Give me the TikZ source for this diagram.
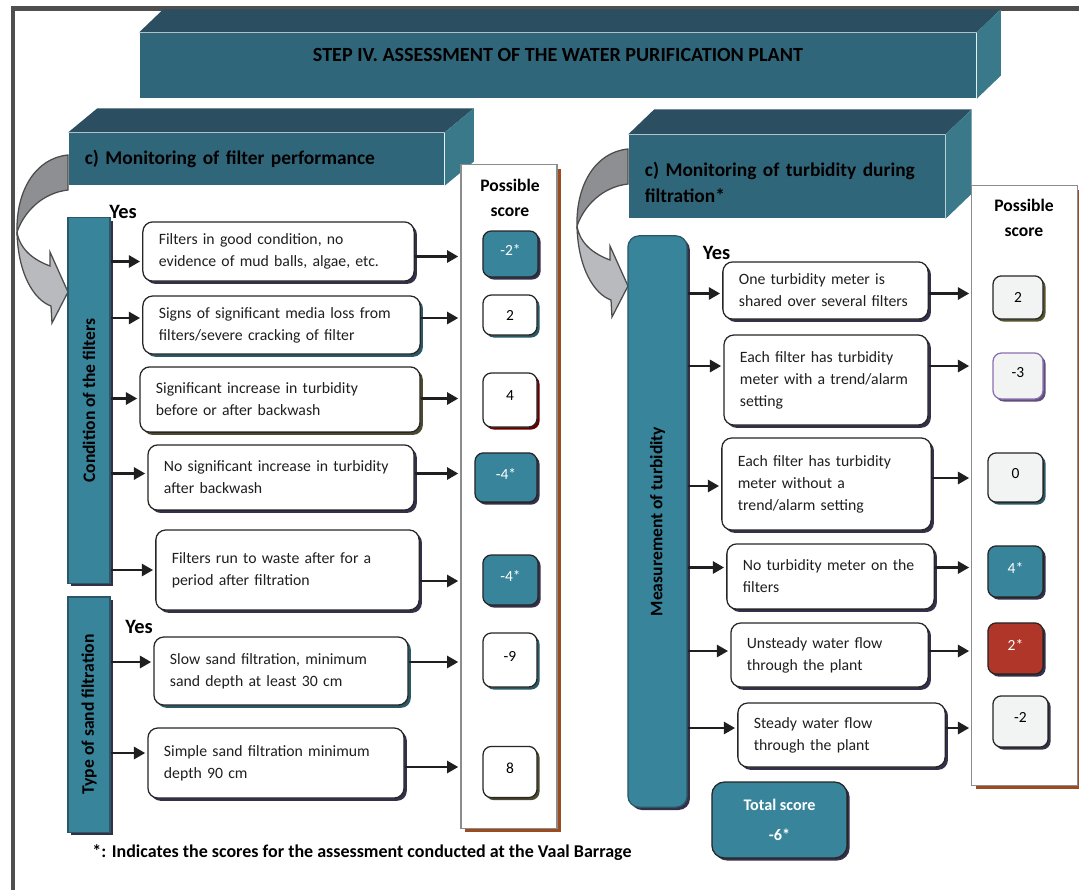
\documentclass[tikz,border=0pt]{standalone}
\usepackage{fontspec}
\setmainfont{Carlito}
\usetikzlibrary{arrows.meta, positioning, shadows, calc}
\definecolor{cfront}{HTML}{306679}
\definecolor{ctop}{HTML}{2B4E60}
\definecolor{cside}{HTML}{3A798A}
\definecolor{cteal}{HTML}{38849A}
\definecolor{cline}{HTML}{2A5866}
\definecolor{cred}{HTML}{B0362A}
\definecolor{cpale}{HTML}{F2F4F3}
\definecolor{cbrown}{HTML}{9C4A1F}
\definecolor{cframe}{HTML}{4F4F4F}
\definecolor{cshade}{HTML}{35304A}
\definecolor{cpurple}{HTML}{8A6FAE}
\definecolor{cbenddark}{HTML}{8E8F93}
\definecolor{cbendlight}{HTML}{B9BABE}
\tikzset{
  every picture/.style={line width=0.9pt},
  opt/.style={draw=black!85, fill=white, rounded corners=7pt, align=left, inner xsep=0.4cm, inner ysep=2pt, text=black!88, font=\fontsize{11.2}{15.6}\selectfont, drop shadow={shadow xshift=2pt, shadow yshift=-2pt, fill=#1, opacity=1}},
  opt/.default=cshade,
  sc/.style={draw=black!85, fill=white, rounded corners=6pt, inner sep=0pt, text depth=0.2cm, font=\fontsize{11}{13}\selectfont, drop shadow={shadow xshift=1.8pt, shadow yshift=-1.8pt, fill=#1, opacity=1}},
  sc/.default=cshade,
  scteal/.style={sc, fill=cteal, text=white},
  bar/.style={draw=cline, fill=cteal, inner sep=0pt, font=\bfseries\fontsize{12.5}{14}\selectfont, drop shadow={shadow xshift=2pt, shadow yshift=-2pt, fill=cshade, opacity=1}},
  banner/.style={fill=cfront, inner xsep=0.4cm, inner ysep=0pt, align=left, font=\bfseries\fontsize{13.8}{18.5}\selectfont},
  col/.style={draw=black!45, fill=white, line width=0.8pt, drop shadow={shadow xshift=3pt, shadow yshift=-3pt, fill=cbrown, opacity=1}},
  arrow/.style={-{Triangle[length=8pt, width=8.5pt]}, line width=2.1pt, draw=black!88, shorten >=1.5pt},
  yes/.style={font=\bfseries\fontsize{14.5}{16}\selectfont},
  poss/.style={align=center, font=\bfseries\fontsize{12.5}{17.7}\selectfont},
  bendarrow/.style={draw=black!70, line width=0.9pt},
}

\begin{document}
\begin{tikzpicture}[x=0.025cm, y=-0.025cm]
  \useasboundingbox (0,0) rectangle (1079,890);
  % frame
  \draw[cframe, line width=3.5pt] (13,890) -- (13,8.5) -- (1079,8.5);

  % banners
  \node[banner, align=center, minimum width=20.9cm, minimum height=1.63cm, text depth=15pt, font=\bfseries\fontsize{14.3}{17}\selectfont] (title) at (558,65.5) {STEP IV. ASSESSMENT OF THE WATER PURIFICATION PLANT};
  \node[banner, text width=8.58cm, minimum height=1.3cm] (lban) at (256.5,159) {c) Monitoring of filter performance};
  \node[banner, text width=7.1cm, minimum height=2.08cm, text depth=10pt] (rban) at (787,176.5) {c) Monitoring of turbidity during\\ filtration*};
  \foreach \b/\dx/\dy in {title/24/-23, lban/29/-24, rban/26/-25} {
    \fill[ctop] (\b.north west) -- ([shift={(\dx,\dy)}]\b.north west) -- ([shift={(\dx,\dy)}]\b.north east) -- (\b.north east) -- cycle;
    \fill[cside] (\b.north east) -- ([shift={(\dx,\dy)}]\b.north east) -- ([shift={(\dx,\dy)}]\b.south east) -- (\b.south east) -- cycle;
  }

  % bent arrows from the banners
  \foreach \sx/\sy in {0/0, 560/-6} {
    \begin{scope}[shift={(\sx,\sy)}]
      \filldraw[bendarrow, fill=cbenddark] (68,155) .. controls (36,158) and (16,190) .. (17,232) .. controls (24,212) and (42,193) .. (68,190) -- cycle;
      \filldraw[bendarrow, fill=cbendlight] (17,232) .. controls (18,274) and (34,300) .. (51,306) -- (52,323) -- (68,292) -- (50,252) -- (50,266) .. controls (34,260) and (20,250) .. (17,232) -- cycle;
    \end{scope}
  }

  % score columns
  \node[col, minimum width=2.4cm, minimum height=16.58cm] (lcol) at (509,496.5) {};
  \node[col, minimum width=2.63cm, minimum height=14.98cm] (rcol) at (1024.5,485.5) {};
  \node[poss] (lposs) at (510,197.5) {Possible\\ score};
  \node[poss] (rposs) at (1024,218) {Possible\\ score};

  % side bars
  \node[bar, minimum width=1.05cm, minimum height=9.13cm] (cond) at (89,400.5) {\rotatebox{90}{Condition of the filters}};
  \node[bar, minimum width=1.05cm, minimum height=5.88cm] (sand) at (89,714.5) {\rotatebox{90}{Type of sand filtration}};
  \node[bar, rounded corners=8pt, minimum width=1.48cm, minimum height=14.28cm] (meas) at (657.5,521.5) {\rotatebox{90}{Measurement of turbidity}};
  \node[yes] (yes1) at (123,212) {Yes};
  \node[yes] (yes2) at (139,627) {Yes};
  \node[yes] (yes3) at (716.5,253) {Yes};

  % filter options
  \node[opt, text width=5.98cm, minimum height=1.48cm] (f1) at (278.5,251.5) {Filters in good condition, no\\ evidence of mud balls, algae, etc.};
  \node[opt=cline, text width=6.13cm, minimum height=1.45cm] (f2) at (281.5,325) {Signs of significant media loss from\\ filters/severe cracking of filter};
  \node[opt=black!60!olive, text width=6.2cm, minimum height=1.63cm] (f3) at (280,399.5) {Significant increase in turbidity\\ before or after backwash};
  \node[opt, text width=5.85cm, minimum height=1.63cm] (f4) at (281,477.5) {No significant increase in turbidity\\ after backwash};
  \node[opt, text width=5.78cm, minimum height=2.0cm] (f5) at (287.5,570) {Filters run to waste after for a\\ period after filtration};
  \node[opt=cline, text width=5.55cm, minimum height=1.7cm] (f6) at (281,671) {Slow sand filtration, minimum\\ sand depth at least 30 cm};
  \node[opt, text width=5.6cm, minimum height=1.75cm] (f7) at (276,763) {Simple sand filtration minimum\\ depth 90 cm};

  % turbidity options
  \node[opt, text width=4.33cm, minimum height=1.43cm] (t1) at (825.5,290.5) {One turbidity meter is\\ shared over several filters};
  \node[opt, text width=4.3cm, minimum height=2.25cm] (t2) at (826,380) {Each filter has turbidity\\ meter with a trend/alarm\\ setting};
  \node[opt, text width=4.43cm, minimum height=2.3cm] (t3) at (826.5,484) {Each filter has turbidity\\ meter without a\\ trend/alarm setting};
  \node[opt, text width=4.38cm, minimum height=1.63cm] (t4) at (830.5,576.5) {No turbidity meter on the\\ filters};
  \node[opt, text width=4.13cm, minimum height=1.6cm] (t5) at (829.5,655) {Unsteady water flow\\ through the plant};
  \node[opt, text width=4.38cm, minimum height=1.6cm] (t6) at (841.5,735) {Steady water flow\\ through the plant};

  % scores
  \node[scteal, minimum width=1.38cm, minimum height=1.15cm] (s1) at (510.5,254) {-2*};
  \node[sc=cline, minimum width=1.35cm, minimum height=1.0cm, text depth=0pt] (s2) at (510,315) {2};
  \node[sc=black!60!red, minimum width=1.35cm, minimum height=1.35cm] (s3) at (510,400) {4};
  \node[scteal, minimum width=1.55cm, minimum height=1.23cm] (s4) at (506,477.5) {-4*};
  \node[scteal, minimum width=1.38cm, minimum height=1.25cm] (s5) at (510.5,580) {-4*};
  \node[sc=cline, minimum width=1.35cm, minimum height=1.35cm] (s6) at (510,660) {-9};
  \node[sc=black!60!olive, minimum width=1.35cm, minimum height=1.28cm] (s7) at (510,772) {8};
  \node[sc=black!50!olive, fill=cpale, minimum width=1.25cm, minimum height=1.08cm, text depth=0pt] (r1) at (1018,297.5) {2};
  \node[sc=cpurple!70!black, draw=cpurple, fill=cpale, minimum width=1.25cm, minimum height=1.15cm] (r2) at (1018,376) {-3};
  \node[sc=cline, fill=cpale, minimum width=1.38cm, minimum height=1.23cm] (r3) at (1015.5,477.5) {0};
  \node[scteal, minimum width=1.38cm, minimum height=1.28cm] (r4) at (1015.5,571.5) {4*};
  \node[sc, fill=cred, text=white, minimum width=1.38cm, minimum height=1.28cm] (r5) at (1015.5,648.5) {2*};
  \node[sc, fill=cpale, minimum width=1.38cm, minimum height=1.28cm] (r6) at (1020.5,721.5) {-2};
  \node[sc, fill=cteal, text=white, text depth=0pt, rounded corners=9pt, align=center, minimum width=3.38cm, minimum height=1.9cm, font=\bfseries\fontsize{11.5}{21}\selectfont] (total) at (779.5,820) {Total score\\ -6*};

  % connectors
  \foreach \n/\i/\o in {f1/10/5, f2/-7/-7, f3/-1/-1, f4/-4/-4, f5/0/11} {
    \draw[arrow] ($(cond.east |- \n.west)+(0,\i)$) -- ($(\n.west)+(0,\i)$);
    \draw[arrow] ($(\n.east)+(0,\o)$) -- ($(lcol.west |- \n.east)+(0,\o)$);
  }
  \foreach \n/\i/\o in {f6/-9/-9, f7/-10/4} {
    \draw[arrow] ($(sand.east |- \n.west)+(0,\i)$) -- ($(\n.west)+(0,\i)$);
    \draw[arrow] ($(\n.east)+(0,\o)$) -- ($(lcol.west |- \n.east)+(0,\o)$);
  }
  \foreach \n/\i/\o in {t1/3/3, t2/-14/-14, t3/2/-6, t4/-9/-9, t5/-4/-4, t6/-7/-7} {
    \draw[arrow] ($(meas.east |- \n.west)+(0,\i)$) -- ($(\n.west)+(0,\i)$);
    \draw[arrow] ($(\n.east)+(0,\o)$) -- ($(rcol.west |- \n.east)+(0,\o)$);
  }

  \node[font=\bfseries\fontsize{12.8}{14}\selectfont] (note) at (362,853) {*: Indicates the scores for the assessment conducted at the Vaal Barrage};
\end{tikzpicture}
\end{document}
